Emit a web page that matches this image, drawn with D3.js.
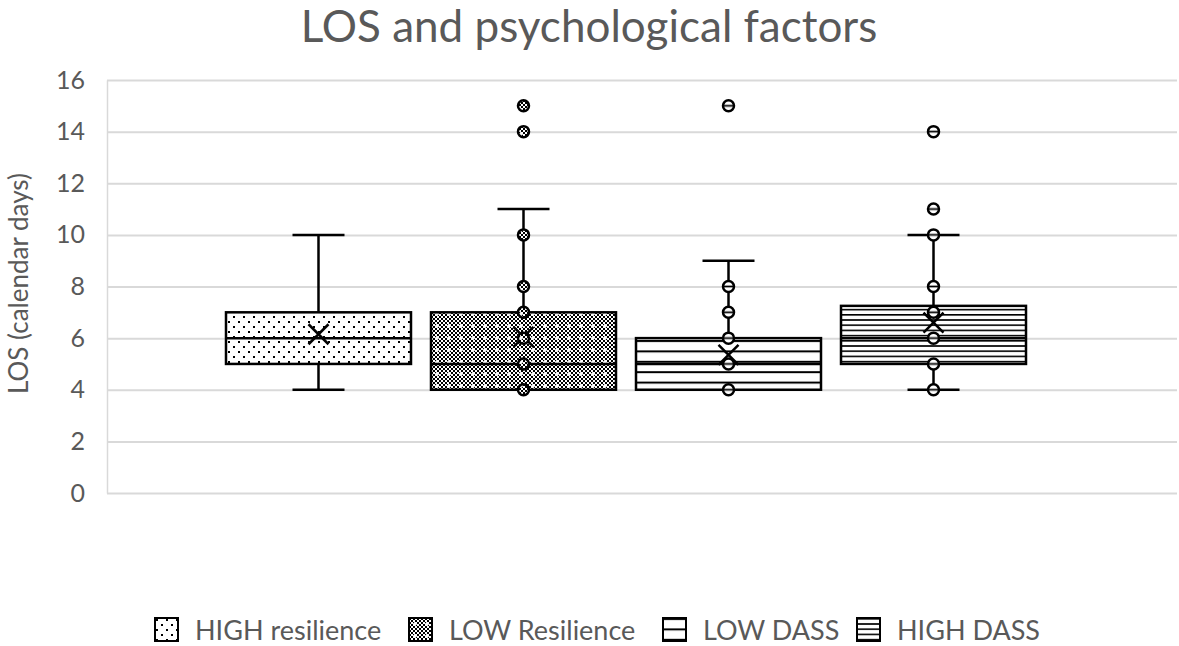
<!DOCTYPE html>
<html>
<head>
<meta charset="utf-8">
<script src="https://cdn.jsdelivr.net/npm/d3@7"></script>
<style>
  body { margin: 0; background: #fff; }
  text { font-family: Lato, "Open Sans", sans-serif; fill: #595959; }
</style>
</head>
<body>
<div id="chart"></div>
<script>
'use strict';

// data
const series = ['HIGH resilience', 'LOW Resilience', 'LOW DASS', 'HIGH DASS'];
const whiskerLow = [4, 4, 4, 4];
const q1 = [5, 4, 4, 5];
const median = [6, 5, 5, 6];
const q3 = [7, 7, 6, 7.25];
const whiskerHigh = [10, 11, 9, 10];
const means = [6.15, 6.05, 5.35, 6.6];
const points = [
  [],
  [15, 14, 10, 8, 7, 6, 5, 4],
  [15, 8, 7, 6, 5, 4],
  [14, 11, 10, 8, 7, 6, 5, 4]
];
const yTicks = [0, 2, 4, 6, 8, 10, 12, 14, 16];

const W = 1179, H = 646;
const margin = {top: 80, right: 2, bottom: 153, left: 107};
const width = W - margin.left - margin.right, height = H - margin.top - margin.bottom;

const svg = d3.select('#chart').append('svg')
    .attr('width', W)
    .attr('height', H);

// fill patterns
const defs = svg.append('defs');

const pDots = defs.append('pattern').attr('id', 'pat0')
    .attr('patternUnits', 'userSpaceOnUse').attr('width', 10).attr('height', 10);
pDots.append('rect').attr('width', 10).attr('height', 10).attr('fill', '#fff');
pDots.append('rect').attr('x', 1).attr('y', 1).attr('width', 2).attr('height', 2).attr('fill', '#000');
pDots.append('rect').attr('x', 6).attr('y', 6).attr('width', 2).attr('height', 2).attr('fill', '#000');

const pCheck = defs.append('pattern').attr('id', 'pat1')
    .attr('patternUnits', 'userSpaceOnUse').attr('width', 12).attr('height', 12);
pCheck.append('rect').attr('width', 12).attr('height', 12).attr('fill', '#fff');
d3.range(36).forEach(i => {
  const cx = i % 6, cy = Math.floor(i / 6);
  if ((cx + cy) % 2 === 0) {
    pCheck.append('rect').attr('x', cx * 2).attr('y', cy * 2)
        .attr('width', 2).attr('height', 2).attr('fill', '#000');
  }
});
pCheck.append('path').attr('d', 'M4,6H8M6,4V8').attr('stroke', '#fff').attr('stroke-width', 1.6);

const pWide = defs.append('pattern').attr('id', 'pat2')
    .attr('patternUnits', 'userSpaceOnUse').attr('width', 10).attr('height', 10.4);
pWide.append('rect').attr('width', 10).attr('height', 10.4).attr('fill', '#fff');
pWide.append('rect').attr('y', 0).attr('width', 10).attr('height', 2).attr('fill', '#000');

const pNarrow = defs.append('pattern').attr('id', 'pat3')
    .attr('patternUnits', 'userSpaceOnUse').attr('width', 10).attr('height', 5.2);
pNarrow.append('rect').attr('width', 10).attr('height', 5.2).attr('fill', '#fff');
pNarrow.append('rect').attr('y', 0).attr('width', 10).attr('height', 1.6).attr('fill', '#000');

// point fill: white with a line through the middle
const pPt = defs.append('pattern').attr('id', 'ptline')
    .attr('patternUnits', 'objectBoundingBox').attr('patternContentUnits', 'objectBoundingBox')
    .attr('width', 1).attr('height', 1);
pPt.append('rect').attr('width', 1).attr('height', 1).attr('fill', '#fff');
pPt.append('rect').attr('y', 0.42).attr('width', 1).attr('height', 0.16).attr('fill', '#000');

const boxFill = ['url(#pat0)', 'url(#pat1)', 'url(#pat2)', 'url(#pat3)'];
const pointFill = ['#fff', 'url(#pat1)', 'url(#ptline)', 'url(#ptline)'];

// title
svg.append('text')
    .attr('x', 589).attr('y', 42)
    .attr('text-anchor', 'middle')
    .attr('font-size', 44)
    .text('LOS and psychological factors');

const g = svg.append('g')
    .attr('transform', `translate(${margin.left},${margin.top})`);

const y = d3.scaleLinear().domain([0, 16]).range([height, 0]);
const x = d3.scaleBand().domain(series)
    .range([119, 919]).paddingInner(0.0976).paddingOuter(0);

// gridlines
g.append('g')
    .call(d3.axisLeft(y).tickValues(yTicks).tickSize(-width).tickFormat(''))
    .call(a => a.select('.domain').remove())
    .call(a => a.selectAll('line').attr('stroke', '#d9d9d9').attr('stroke-width', 2));

// y axis
g.append('g')
    .call(d3.axisLeft(y).tickValues(yTicks).tickSize(0).tickPadding(22))
    .call(a => a.select('.domain').attr('stroke', '#d9d9d9').attr('stroke-width', 1.5))
    .call(a => a.selectAll('text').attr('font-size', 25).attr('fill', '#595959')
        .style('font-family', 'Lato, "Open Sans", sans-serif'));

svg.append('text')
    .attr('transform', 'translate(28,' + (margin.top + height / 2 - 3) + ') rotate(-90)')
    .attr('text-anchor', 'middle')
    .attr('font-size', 26)
    .text('LOS (calendar days)');

// boxes
const boxes = g.selectAll('.box')
    .data(series.map((s, i) => ({s, i})))
    .join('g')
    .attr('class', 'box');

const cx = d => x(d.s) + x.bandwidth() / 2;
const capHalf = 26;

boxes.append('line')
    .attr('x1', cx).attr('x2', cx)
    .attr('y1', d => y(whiskerLow[d.i])).attr('y2', d => y(whiskerHigh[d.i]))
    .attr('stroke', '#000').attr('stroke-width', 2.5);

boxes.append('line')
    .attr('x1', d => cx(d) - capHalf).attr('x2', d => cx(d) + capHalf)
    .attr('y1', d => y(whiskerHigh[d.i])).attr('y2', d => y(whiskerHigh[d.i]))
    .attr('stroke', '#000').attr('stroke-width', 2.5);

boxes.append('line')
    .attr('x1', d => cx(d) - capHalf).attr('x2', d => cx(d) + capHalf)
    .attr('y1', d => y(whiskerLow[d.i])).attr('y2', d => y(whiskerLow[d.i]))
    .attr('stroke', '#000').attr('stroke-width', 2.5);

boxes.append('rect')
    .attr('x', d => x(d.s))
    .attr('width', x.bandwidth())
    .attr('y', d => y(q3[d.i]))
    .attr('height', d => y(q1[d.i]) - y(q3[d.i]))
    .attr('fill', d => boxFill[d.i])
    .attr('stroke', '#000').attr('stroke-width', 2.5);

boxes.append('line')
    .attr('x1', d => x(d.s)).attr('x2', d => x(d.s) + x.bandwidth())
    .attr('y1', d => y(median[d.i])).attr('y2', d => y(median[d.i]))
    .attr('stroke', '#000').attr('stroke-width', 2.5);

// mean markers
boxes.append('path')
    .attr('d', d => {
      const px = cx(d), py = y(means[d.i]), r = 10;
      return `M${px - r},${py - r}L${px + r},${py + r}M${px - r},${py + r}L${px + r},${py - r}`;
    })
    .attr('stroke', '#000').attr('stroke-width', 2.5).attr('fill', 'none');

// points
boxes.each(function(d) {
  d3.select(this).selectAll('circle')
      .data(points[d.i])
      .join('circle')
      .attr('cx', cx(d))
      .attr('cy', v => y(v))
      .attr('r', 5.5)
      .attr('fill', pointFill[d.i])
      .attr('stroke', '#000').attr('stroke-width', 2.5);
});

// legend
const legendX = [155, 409, 663, 857];
const legend = svg.append('g').selectAll('g')
    .data(series.map((s, i) => ({s, i})))
    .join('g')
    .attr('transform', d => `translate(${legendX[d.i]},618)`);

legend.append('rect')
    .attr('width', 23).attr('height', 23)
    .attr('fill', d => boxFill[d.i])
    .attr('stroke', '#000').attr('stroke-width', 2);

legend.append('text')
    .attr('x', 40).attr('y', 22)
    .attr('font-size', 27)
    .text(d => d.s);
</script>
</body>
</html>
